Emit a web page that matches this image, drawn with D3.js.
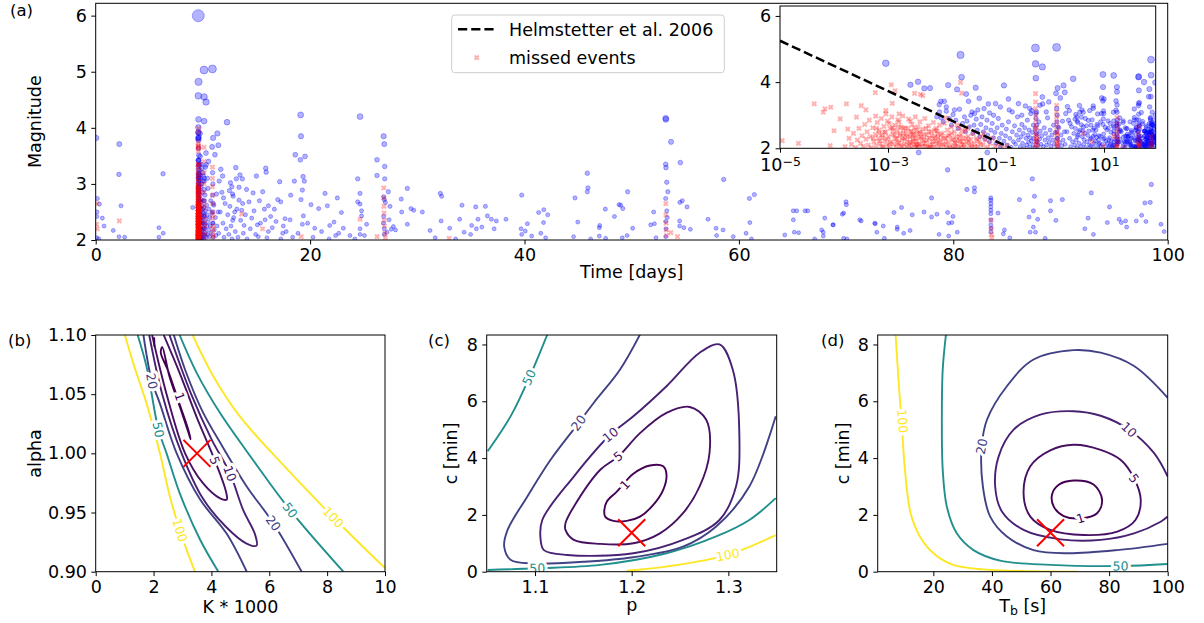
<!DOCTYPE html>
<html>
<head>
<meta charset="utf-8">
<script src="https://cdn.jsdelivr.net/npm/d3@7/dist/d3.min.js"></script>
<style>
  body { margin: 0; background: #fff; }
  svg text { font-family: "DejaVu Sans", sans-serif; }
</style>
</head>
<body>
<svg id="chart" width="1204" height="623"></svg>
<script>
/**
 * DATA
 * */
// panel (a): catalogue, times in days
const mainshockTime = 9.57;
const mainshockMag = 6.0;

// events before the mainshock: [time, magnitude]
const backgroundEvents = [
  [0.05, 3.82], [0.15, 2.74], [0.35, 2.64], [0.12, 2.5], [0.62, 2.39], [0.1, 2.42], [0.78, 2.25],
  [0.1, 2.04], [0.3, 2.02], [2.2, 3.71], [2.17, 3.17], [2.36, 2.61], [1.64, 2.17], [2.17, 2.06],
  [2.7, 2.05], [6.28, 3.18], [5.9, 2.22], [6.3, 2.12], [5.9, 2.05], [9.05, 2.58]
];
const backgroundMissed = [[0.1, 2.65], [0.15, 2.2], [2.2, 2.34], [0.08, 2.28]];

// aftershocks: [days after mainshock, magnitude]
const aftershocks = [
  [9.1e-4, 4.57], [0.022, 4.82], [0.023, 4.15], [0.537, 5.03], [1.32, 5.05], [0.54, 4.55],
  [0.72, 4.46], [0.545, 4.12], [2.68, 4.1], [2.6e-3, 3.92], [3.6e-3, 4.01], [4.7e-3, 3.81],
  [6.0e-3, 3.82], [0.013, 3.91], [0.019, 3.78], [0.028, 3.64], [0.042, 3.83], [0.049, 3.51],
  [0.031, 3.42], [0.072, 3.34], [0.098, 3.35], [0.14, 3.9], [0.17, 3.49], [0.175, 3.16],
  [0.076, 3.07], [0.0095, 3.42], [0.011, 3.42], [0.0089, 3.32], [0.012, 3.12], [0.017, 3.16],
  [0.0096, 2.92], [0.036, 3.1], [0.046, 3.16], [0.04, 3.05], [0.35, 3.28], [0.46, 3.14],
  [0.72, 3.55], [0.73, 3.34], [1.29, 3.66], [1.38, 3.82], [1.78, 3.9], [1.55, 3.52],
  [2.1, 3.26], [3.5, 3.29], [1.87, 3.69],
  [8.0e-3, 2.95], [9.0e-3, 3.1], [0.0105, 2.8], [0.012, 3.25], [0.0135, 2.9], [0.015, 2.7],
  [0.016, 3.02], [0.018, 2.85], [0.02, 2.6], [0.021, 3.18], [0.024, 2.75], [0.026, 2.95],
  [0.027, 2.5], [0.029, 2.82], [0.032, 2.65], [0.034, 3.0], [0.037, 2.45], [0.039, 2.7],
  [0.043, 2.88], [0.045, 2.55], [0.05, 2.35], [0.052, 2.72], [0.055, 2.95], [0.058, 2.5],
  [0.062, 2.28], [0.065, 2.62], [0.068, 2.85], [0.07, 2.4], [0.075, 2.2], [0.08, 2.55],
  [0.085, 2.75], [0.09, 2.32], [0.095, 2.48], [0.1, 2.15], [0.105, 2.62], [0.11, 2.9],
  [0.115, 2.3], [0.12, 2.05], [0.125, 2.45], [0.13, 2.7], [0.14, 2.22], [0.15, 2.38],
  [0.155, 2.58], [0.16, 2.1], [0.17, 2.8], [0.18, 2.3], [0.19, 2.03], [0.2, 2.5], [0.21, 2.2],
  [0.22, 2.68], [0.23, 2.12], [0.24, 2.4], [0.25, 2.95], [0.26, 2.25], [0.27, 2.55], [0.28, 2.05],
  [0.29, 2.35], [0.3, 2.72], [0.31, 2.15], [0.32, 2.45], [0.33, 2.02], [0.34, 2.62], [0.36, 2.3],
  [0.37, 2.1], [0.38, 2.85], [0.39, 2.4], [0.4, 2.18], [0.41, 2.55], [0.42, 2.04], [0.43, 2.32],
  [0.44, 3.05], [0.45, 2.22], [0.47, 2.48], [0.48, 2.1], [0.49, 2.7], [0.5, 2.3], [0.52, 2.02],
  [0.53, 2.58], [0.56, 2.2], [0.58, 2.42], [0.6, 2.08], [0.62, 2.8], [0.64, 2.28], [0.66, 2.52],
  [0.68, 2.12], [0.7, 2.38], [0.75, 2.05], [0.78, 2.62], [0.8, 2.25], [0.83, 2.45], [0.86, 2.1],
  [0.9, 2.92], [0.93, 2.32], [0.96, 2.18], [1.0, 2.55], [1.04, 2.06], [1.08, 2.4], [1.12, 2.25],
  [1.16, 2.7], [1.2, 2.12], [1.25, 2.48], [1.35, 2.3], [1.4, 2.05], [1.45, 2.62], [1.5, 2.18],
  [1.6, 2.4], [1.65, 2.08], [1.7, 2.82], [1.75, 2.25], [1.85, 2.5], [1.9, 2.12], [1.95, 3.05],
  [0.06, 3.2], [0.09, 3.0], [0.12, 3.25], [0.2, 3.1], [0.26, 3.35], [0.3, 3.0], [0.42, 3.2],
  [0.55, 3.05], [0.65, 3.3], [0.85, 3.1], [0.95, 3.4],
  [0.55, 2.9], [0.555, 2.45], [0.56, 3.1], [0.57, 2.7], [0.58, 2.2], [1.33, 3.2], [1.34, 2.8],
  [1.35, 2.5], [1.36, 3.0], [1.38, 2.3], [1.4, 2.65],
  [2.27, 3.14], [3.89, 3.16], [4.11, 3.09], [5.42, 3.14], [6.29, 3.28], [6.33, 3.21], [7.59, 3.04],
  [9.05, 3.52], [9.55, 4.23], [9.58, 3.85], [9.96, 3.49], [9.52, 3.43], [9.77, 3.13], [9.89, 3.05],
  [8.96, 3.05], [9.71, 2.89], [9.58, 2.72], [8.62, 2.8], [11.82, 2.83], [12.97, 2.75], [10.51, 2.63],
  [11.23, 2.56], [12.04, 2.61], [13.35, 2.49], [12.66, 2.32], [12.26, 2.26], [13.53, 2.21],
  [14.15, 2.08], [12.81, 2.08], [10.86, 2.21], [9.8, 2.43], [9.71, 2.28], [8.56, 2.36], [8.09, 2.38],
  [7.69, 2.68], [7.41, 2.72], [6.54, 2.61], [6.17, 2.55], [6.01, 2.86], [5.11, 2.84], [4.73, 2.68],
  [3.8, 2.94], [3.55, 3.09], [3.13, 2.95], [3.2, 2.82], [3.0, 3.02], [3.25, 2.78], [3.8, 2.71],
  [4.14, 2.65], [4.05, 2.53], [3.39, 2.5], [3.21, 2.35], [4.27, 2.26], [4.98, 2.39], [5.51, 2.27],
  [6.23, 2.36], [6.75, 2.42], [7.25, 2.33], [7.93, 2.25], [7.87, 2.12], [6.54, 2.15], [5.6, 2.06],
  [2.05, 2.5], [2.2, 2.85], [2.3, 2.3], [2.4, 2.05], [2.5, 2.65], [2.6, 2.2], [2.75, 2.45],
  [2.85, 2.1], [2.95, 2.6], [3.05, 2.25], [3.15, 2.02], [3.3, 2.4], [3.45, 2.15], [3.6, 2.55],
  [3.7, 2.05], [3.95, 2.35], [4.2, 2.12], [4.4, 2.45], [4.55, 2.02], [4.85, 2.2], [5.2, 2.52],
  [5.35, 2.1], [5.8, 2.3], [6.4, 2.04], [6.9, 2.22], [7.1, 2.55], [7.7, 2.02], [8.2, 2.15],
  [8.8, 2.05], [9.3, 2.12], [10.2, 2.3], [10.7, 2.05], [11.5, 2.15], [12.2, 2.02], [13.1, 2.12],
  [14.6, 2.02], [2.35, 2.75], [2.9, 2.88], [4.5, 2.9], [5.7, 2.7],
  [15.09, 4.2], [17.29, 3.85], [17.35, 3.71], [16.67, 3.43], [16.67, 3.15], [17.39, 3.31],
  [17.39, 3.09], [14.87, 3.09], [15.09, 2.83], [14.87, 2.68], [15.09, 2.64], [15.23, 2.52],
  [15.23, 2.43], [15.09, 2.2], [15.09, 2.1], [15.5, 2.08], [15.7, 2.28], [17.73, 2.86],
  [17.29, 2.77], [17.35, 2.72], [17.45, 2.67], [17.88, 2.6], [17.8, 2.36], [17.29, 2.42],
  [17.26, 2.3], [17.35, 2.2], [17.35, 2.1], [17.6, 2.14], [18.0, 2.19], [18.2, 2.24], [18.4, 2.18],
  [18.93, 2.73], [19.5, 2.92], [18.97, 2.5], [19.5, 2.28], [19.84, 2.56], [20.1, 2.53], [20.9, 2.5],
  [21.62, 2.17], [22.1, 2.04], [22.58, 2.83], [22.7, 2.78], [22.65, 2.34], [23.45, 2.21],
  [24.0, 2.02], [24.38, 2.37], [24.6, 2.62], [24.8, 2.14], [25.4, 2.1], [25.5, 2.26], [25.88, 2.59],
  [25.94, 2.2], [26.09, 2.37], [26.45, 2.23], [26.78, 2.6], [26.97, 2.43], [27.34, 2.37],
  [27.6, 2.2], [27.8, 2.34], [28.7, 2.37], [30.11, 2.2], [30.17, 2.8], [30.17, 2.1], [30.5, 2.16],
  [30.7, 2.29], [31.1, 2.07], [31.75, 2.49], [31.95, 2.12], [32.23, 2.54], [32.2, 2.31],
  [32.4, 2.04], [32.6, 2.45], [35.01, 2.06], [35.14, 2.75], [35.4, 2.32], [36.29, 3.19],
  [36.35, 2.93], [36.29, 2.86], [36.6, 2.02], [37.41, 2.22], [37.45, 2.26], [37.41, 2.07],
  [37.97, 2.55], [38.0, 2.03], [38.82, 2.42], [39.25, 2.63],
  [43.6, 4.17], [43.62, 4.15], [44.1, 3.75], [43.6, 3.35], [43.63, 3.29], [44.97, 3.38],
  [43.7, 3.03], [43.8, 2.86], [43.6, 2.74], [43.7, 2.52], [43.75, 2.4], [43.6, 2.33], [43.62, 2.2],
  [43.6, 2.06], [44.93, 2.67], [45.15, 2.7], [45.59, 2.59], [44.9, 2.34], [44.9, 2.25], [45.3, 2.22],
  [49.01, 3.08], [47.55, 2.37], [48.3, 2.21], [48.95, 2.18], [48.35, 2.08], [49.9, 2.06],
  [51.41, 2.74], [51.87, 2.81], [51.45, 2.31], [51.1, 2.12], [51.6, 2.02], [40.05, 2.86],
  [39.4, 2.62], [39.6, 2.56], [40.52, 2.21], [42.48, 2.5], [42.2, 2.27], [42.55, 2.29], [42.7, 2.04],
  [39.55, 2.04], [40.0, 2.08], [45.9, 2.19], [54.71, 2.09], [55.6, 2.14], [55.51, 2.36],
  [55.82, 2.52], [56.85, 2.52], [56.0, 2.13], [58.3, 2.14], [58.3, 2.07], [58.44, 2.39],
  [59.23, 2.27], [60.08, 2.46], [60.42, 2.68], [60.45, 2.63], [61.84, 2.34], [63.15, 2.29],
  [63.3, 2.14], [63.9, 2.25], [64.0, 2.03], [65.2, 2.19], [60.5, 2.02], [57.5, 2.02],
  [55.5, 2.52], [56.6, 2.52], [58.15, 2.18], [59.2, 2.27], [60.2, 2.48], [61.7, 2.36], [63.1, 2.3],
  [60.2, 2.03],
  [67.2, 3.56], [69.9, 3.25], [73.6, 3.56], [77.8, 3.09], [71.7, 2.9], [72.4, 2.93], [72.4, 2.86],
  [68.4, 2.75], [73.93, 2.75], [73.93, 2.71], [73.94, 2.65], [73.93, 2.59], [73.94, 2.53],
  [73.93, 2.47], [73.94, 2.36], [73.93, 2.27], [73.95, 2.21], [73.93, 2.14],
  [64.9, 2.49], [65.6, 2.58], [66.6, 2.45], [67.7, 2.5], [68.4, 2.41], [68.9, 2.46], [69.9, 2.49],
  [70.4, 2.42], [70.0, 2.3], [70.3, 2.31], [70.8, 2.14], [69.1, 2.1], [70.0, 2.07], [65.8, 2.12],
  [66.4, 2.17], [65.2, 2.23], [76.6, 2.72], [78.0, 2.78], [79.5, 2.7], [80.6, 2.72], [83.3, 2.84],
  [85.0, 2.59], [88.9, 2.99], [88.8, 2.67], [88.3, 2.66], [88.0, 2.44], [88.4, 2.33], [89.8, 2.28],
  [90.1, 2.15], [77.9, 2.52], [77.5, 2.41], [78.3, 2.37], [77.9, 2.23], [77.6, 2.14], [78.1, 2.14],
  [79.5, 2.52], [80.0, 2.35], [83.0, 2.39], [82.7, 2.2], [83.5, 2.1], [84.8, 2.31], [85.9, 2.37],
  [86.1, 2.31], [86.5, 2.34], [86.6, 2.23], [87.5, 2.34], [74.6, 2.48], [75.2, 2.18], [75.1, 2.11],
  [75.7, 2.04], [79.0, 2.03],
  [55, 4.0], [69, 3.79], [74.5, 4.21], [74, 4.68], [89, 3.99]
];

// aftershocks missed by the catalogue: [days after mainshock, magnitude]
const aftershocksMissed = [
  [1.1e-5, 2.23], [2.2e-5, 2.15], [4.3e-5, 3.34], [6.3e-5, 3.09], [6.8e-5, 3.19], [8.5e-5, 2.08],
  [8.7e-5, 3.24], [1.0e-4, 2.53], [1.3e-4, 2.89], [1.7e-4, 3.34], [1.8e-4, 2.58], [2.6e-4, 2.94],
  [3.2e-4, 3.29], [3.9e-4, 3.16], [5.8e-4, 3.68], [5.9e-4, 2.97], [9.1e-4, 3.14], [9.1e-4, 3.04],
  [1.15e-3, 3.92], [1.2e-3, 3.36], [1.35e-3, 3.74], [1.6e-3, 3.04], [3.1e-3, 3.66], [4.4e-3, 3.59],
  [4.0e-3, 3.63], [0.022, 3.99], [0.023, 3.67],
  [1.6e-4, 2.05], [1.9e-4, 2.3], [2.1e-4, 2.12], [2.3e-4, 2.45], [2.5e-4, 2.02], [2.7e-4, 2.25],
  [2.9e-4, 2.6], [3.1e-4, 2.15], [3.3e-4, 2.38], [3.5e-4, 2.05], [3.7e-4, 2.72], [3.9e-4, 2.28],
  [4.1e-4, 2.5], [4.3e-4, 2.1], [4.5e-4, 2.85], [4.7e-4, 2.35], [4.9e-4, 2.02], [5.2e-4, 2.62],
  [5.5e-4, 2.2], [5.8e-4, 2.42],
  [6.0e-4, 2.08], [6.3e-4, 2.78], [6.6e-4, 2.3], [6.9e-4, 2.55], [7.2e-4, 2.14], [7.5e-4, 2.9],
  [7.8e-4, 2.4], [8.1e-4, 2.03], [8.4e-4, 2.66], [8.7e-4, 2.22], [9.0e-4, 2.48], [9.4e-4, 2.1],
  [9.8e-4, 2.82], [1.02e-3, 2.35], [1.06e-3, 2.05], [1.1e-3, 2.6], [1.14e-3, 2.2], [1.18e-3, 2.95],
  [1.22e-3, 2.42], [1.27e-3, 2.12], [1.32e-3, 2.7], [1.37e-3, 2.28], [1.42e-3, 2.04], [1.47e-3, 2.52],
  [1.52e-3, 2.86], [1.58e-3, 2.18], [1.64e-3, 2.38], [1.7e-3, 2.08], [1.76e-3, 2.64], [1.82e-3, 2.25],
  [1.88e-3, 2.98], [1.95e-3, 2.45], [2.0e-3, 2.12], [1.25e-3, 2.55], [8.0e-4, 2.32], [1.5e-3, 2.15],
  [1.05e-3, 2.75], [6.8e-4, 2.45], [1.9e-3, 2.32], [1.6e-3, 2.8],
  [2.1e-3, 2.6], [2.2e-3, 2.05], [2.3e-3, 2.35], [2.4e-3, 2.88], [2.5e-3, 2.18], [2.6e-3, 2.5],
  [2.7e-3, 2.02], [2.8e-3, 2.72], [2.9e-3, 2.28], [3.0e-3, 2.42], [3.1e-3, 2.1], [3.2e-3, 2.95],
  [3.3e-3, 2.55], [3.4e-3, 2.22], [3.5e-3, 2.04], [3.6e-3, 2.65], [3.7e-3, 2.32], [3.8e-3, 2.12],
  [3.9e-3, 2.8], [4.0e-3, 2.45], [4.2e-3, 2.06], [4.4e-3, 2.58], [4.6e-3, 2.25], [4.8e-3, 2.9],
  [5.0e-3, 2.15], [5.2e-3, 2.4], [5.4e-3, 2.03], [5.6e-3, 2.68], [5.8e-3, 2.3], [6.0e-3, 2.1],
  [6.3e-3, 2.5], [6.6e-3, 2.2], [6.9e-3, 2.78], [7.2e-3, 2.02], [7.5e-3, 2.36], [7.8e-3, 2.6],
  [8.1e-3, 2.14], [8.4e-3, 2.44], [8.7e-3, 2.05], [9.0e-3, 2.7], [9.4e-3, 2.26], [9.8e-3, 2.1],
  [2.6e-3, 2.82], [3.3e-3, 2.12], [4.1e-3, 2.35], [5.1e-3, 2.6], [6.2e-3, 2.04], [7.0e-3, 2.3],
  [8.0e-3, 2.52], [2.9e-3, 2.2],
  [0.0102, 2.45], [0.0106, 2.12], [0.011, 2.75], [0.0115, 2.3], [0.012, 2.03], [0.0125, 2.55],
  [0.013, 2.2], [0.0136, 2.4], [0.0142, 2.08], [0.0148, 2.65], [0.0155, 2.25], [0.0162, 2.02],
  [0.017, 2.5], [0.0178, 2.15], [0.0186, 2.35], [0.0195, 2.06], [0.0205, 2.6], [0.0215, 2.22],
  [0.0225, 2.42], [0.0235, 2.1], [0.0245, 2.3], [0.026, 2.04], [0.0275, 2.52], [0.029, 2.18],
  [0.0305, 2.36], [0.032, 2.08], [0.034, 2.26], [0.036, 2.02], [0.038, 2.44], [0.04, 2.14],
  [0.043, 2.3], [0.046, 2.05], [0.049, 2.2], [0.014, 2.85], [0.019, 2.7], [0.024, 2.55],
  [0.0115, 2.92], [0.03, 2.6], [0.017, 2.18], [0.022, 2.02],
  [5.3e-4, 2.3], [6.1e-4, 2.6], [7.0e-4, 2.22], [7.7e-4, 2.05], [8.6e-4, 2.5], [9.6e-4, 2.28],
  [1.08e-3, 2.15], [1.2e-3, 2.62], [1.33e-3, 2.4], [1.45e-3, 2.3], [1.56e-3, 2.65], [1.68e-3, 2.45],
  [1.8e-3, 2.05], [1.92e-3, 2.6], [2.05e-3, 2.3], [2.15e-3, 2.45], [2.25e-3, 2.2], [2.35e-3, 2.6],
  [2.45e-3, 2.08], [2.55e-3, 2.35], [2.65e-3, 2.15], [2.75e-3, 2.5], [2.85e-3, 2.4], [3.05e-3, 2.62],
  [3.15e-3, 2.3], [3.35e-3, 2.05], [3.45e-3, 2.44], [3.65e-3, 2.12], [3.85e-3, 2.5], [4.3e-3, 2.28],
  [4.5e-3, 2.14], [4.7e-3, 2.42], [4.9e-3, 2.05], [5.3e-3, 2.25], [5.7e-3, 2.5], [5.9e-3, 2.02],
  [6.4e-3, 2.38], [6.8e-3, 2.12], [7.3e-3, 2.55], [7.7e-3, 2.22], [8.3e-3, 2.32], [8.9e-3, 2.18],
  [9.6e-3, 2.4], [0.0108, 2.3], [0.0118, 2.14], [0.0128, 2.36], [0.0138, 2.02], [0.015, 2.45],
  [0.016, 2.3], [0.0175, 2.05], [0.019, 2.24], [0.021, 2.35], [0.023, 2.2], [0.025, 2.12],
  [0.028, 2.3], [0.031, 2.22], [0.035, 2.12], [0.041, 2.04], [0.045, 2.25], [0.052, 2.12],
  [0.053, 2.35], [0.058, 2.1], [0.064, 2.25], [0.07, 2.03], [0.078, 2.15], [0.086, 2.3],
  [0.095, 2.06], [0.11, 2.12], [0.13, 2.02], [0.16, 2.08], [0.06, 2.45],
  [0.538, 3.65], [0.539, 3.4], [0.54, 3.2], [0.541, 3.0], [0.542, 2.85], [0.543, 2.7],
  [0.545, 2.55], [0.547, 2.42], [0.55, 2.3], [0.552, 2.2], [0.555, 2.1], [0.558, 2.02],
  [0.56, 2.62], [0.565, 2.35], [0.57, 2.12], [0.58, 2.25],
  [1.321, 3.3], [1.322, 3.1], [1.323, 2.95], [1.325, 2.8], [1.327, 2.65], [1.33, 2.5],
  [1.333, 2.38], [1.336, 2.25], [1.34, 2.15], [1.345, 2.05], [1.35, 2.45], [1.36, 2.2], [1.37, 2.08],
  [17.3, 2.93], [17.31, 2.75], [17.32, 2.6], [17.33, 2.48], [17.35, 2.35], [17.37, 2.25],
  [17.4, 2.12], [17.45, 2.04], [43.61, 2.65], [43.62, 2.45], [43.64, 2.3], [43.66, 2.18],
  [43.68, 2.08], [44.08, 2.13], [44.7, 2.06], [73.95, 2.35], [73.97, 2.2], [74.0, 2.1],
  [74.02, 2.04], [15.09, 2.37], [16.68, 2.06], [23.4, 2.03], [4.05, 2.46], [6.0, 2.2], [9.6, 2.06]
];

// Helmstetter et al. (2006) completeness line, end points [days, magnitude]
const helmstetterLine = [[1e-5, 5.25], [0.19, 2.0]];

// panels (b)-(d): misfit contours, [level, points, closed]
const contoursB = [
  [100, [[1.01, 1.1], [1.3, 1.076], [1.76, 1.042], [2.22, 1.0], [2.57, 0.963], [2.91, 0.935], [3.15, 0.918], [3.43, 0.9]], false],
  [100, [[3.35, 1.1], [4.07, 1.065], [4.99, 1.031], [6.49, 0.99], [8.21, 0.946], [10.0, 0.903]], false],
  [50, [[1.45, 1.1], [1.76, 1.073], [2.17, 1.02], [2.45, 1.0], [2.91, 0.966], [3.61, 0.927], [4.24, 0.9]], false],
  [50, [[2.9, 1.1], [3.49, 1.068], [4.3, 1.034], [5.45, 0.994], [6.72, 0.952], [8.56, 0.9]], false],
  [20, [[1.65, 1.1], [1.94, 1.061], [2.22, 1.042], [2.8, 1.0], [3.61, 0.961], [4.53, 0.932], [5.22, 0.9]], false],
  [20, [[2.7, 1.1], [3.1, 1.07], [3.7, 1.035], [4.4, 1.005], [5.22, 0.972], [6.14, 0.941], [7.12, 0.9]], false],
  [10, [[1.85, 1.1], [2.3, 1.05], [2.97, 1.0], [3.7, 0.962], [4.5, 0.938], [5.2, 0.924], [5.56, 0.922], [5.5, 0.932], [5.1, 0.952], [4.64, 0.983], [4.0, 1.012], [3.3, 1.05], [2.55, 1.1]], false],
  [5, [[1.95, 1.1], [2.45, 1.05], [3.09, 1.0], [3.7, 0.975], [4.3, 0.962], [4.53, 0.961], [4.5, 0.968], [4.12, 0.994], [3.5, 1.03], [2.9, 1.068], [2.35, 1.1]], false],
  [1, [[2.25, 1.085], [2.5, 1.07], [2.85, 1.045], [3.2, 1.02], [3.28, 1.012], [3.2, 1.018], [2.9, 1.04], [2.55, 1.065], [2.3, 1.09]], true],
  [1, [[2.02, 1.098], [2.03, 1.09]], false]
];
const labelsB = [["1", 2.91, 1.048], ["5", 4.12, 0.994], ["10", 4.64, 0.983], ["20", 1.94, 1.061],
  ["20", 6.14, 0.941], ["50", 2.17, 1.02], ["50", 6.72, 0.952], ["100", 2.91, 0.935], ["100", 8.21, 0.946]];
const bestB = [3.5, 1.0];

const contoursC = [
  [100, [[1.1949, 0.035], [1.236, 0.18], [1.2994, 0.59], [1.349, 1.29]], false],
  [50, [[1.1127, 8.35], [1.0962, 7.0], [1.0757, 5.53], [1.051, 4.24]], false],
  [50, [[1.051, 0.06], [1.1024, 0.12], [1.1675, 0.24], [1.236, 0.65], [1.2874, 1.24], [1.3217, 1.82], [1.349, 2.59]], false],
  [20, [[1.2086, 8.35], [1.188, 7.12], [1.1606, 5.94], [1.1452, 5.24], [1.1161, 3.94], [1.0921, 2.65], [1.0716, 1.47], [1.0681, 0.88], [1.075, 0.41], [1.099, 0.29], [1.1504, 0.35], [1.2017, 0.51], [1.2531, 0.88], [1.2874, 1.59], [1.3217, 3.0], [1.349, 5.47]], false],
  [10, [[1.1058, 1.12], [1.1075, 1.82], [1.1401, 3.35], [1.1778, 4.82], [1.2017, 5.47], [1.236, 6.53], [1.2703, 7.71], [1.2908, 8.0], [1.3045, 7.12], [1.3114, 4.76], [1.3079, 3.0], [1.2908, 1.82], [1.2531, 1.12], [1.2017, 0.65], [1.1332, 0.59], [1.1092, 0.76]], true],
  [5, [[1.1315, 1.71], [1.1401, 2.29], [1.1675, 3.59], [1.1863, 4.06], [1.2086, 4.88], [1.236, 5.59], [1.26, 5.8], [1.2771, 5.35], [1.2805, 4.18], [1.2703, 3.0], [1.2531, 2.06], [1.2292, 1.35], [1.2017, 1.0], [1.1675, 0.98], [1.1401, 1.12], [1.1315, 1.47]], true],
  [1, [[1.1716, 2.12], [1.1743, 2.47], [1.1846, 2.82], [1.2017, 3.45], [1.2189, 3.74], [1.2326, 3.71], [1.236, 3.41], [1.2326, 2.88], [1.2223, 2.35], [1.2086, 1.94], [1.1949, 1.79], [1.1812, 1.79], [1.1726, 1.94]], true]
];
const labelsC = [["1", 1.193, 3.06], ["5", 1.186, 4.06], ["10", 1.178, 4.82], ["20", 1.145, 5.24],
  ["50", 1.0938, 6.84], ["50", 1.1024, 0.12], ["100", 1.2994, 0.59]];
const bestC = [1.2, 1.37];

const contoursD = [
  [100, [[7.1, 8.35], [8.25, 6.53], [9.27, 5.12], [10.3, 3.59], [12.24, 2.06], [15.4, 1.24], [20, 0.65], [26.8, 0.24], [37.1, 0.08], [54.2, 0.02], [69.1, 0.0]], false],
  [50, [[24.3, 8.35], [23.2, 7.12], [22.9, 5.35], [23.2, 3.59], [24.6, 2.29], [28.0, 1.35], [33.7, 0.76], [42.8, 0.39], [59.9, 0.24], [83.9, 0.2], [100, 0.27]], false],
  [20, [[100, 6.12], [88.5, 7.24], [77.1, 7.71], [67.9, 7.8], [54.2, 7.47], [45.1, 6.53], [38.3, 5.35], [36.5, 4.41], [36.9, 3.0], [39.4, 1.94], [45.1, 1.24], [54.2, 0.76], [65.6, 0.65], [82.8, 0.76], [100, 0.98]], false],
  [10, [[100, 3.35], [95.3, 4.18], [86.8, 5.0], [77.1, 5.49], [67.9, 5.65], [56.5, 5.53], [47.4, 5.0], [42.3, 4.06], [41.1, 3.0], [43.4, 2.12], [50.8, 1.47], [63.4, 1.14], [77.1, 1.12], [88.5, 1.35], [97.6, 1.76], [100, 1.94]], false],
  [5, [[67.9, 4.47], [77.1, 4.29], [83.9, 3.94], [88.5, 3.29], [90.8, 2.53], [89.0, 1.82], [82.8, 1.41], [71.4, 1.29], [59.9, 1.47], [53.1, 1.94], [50.8, 2.76], [53.1, 3.71], [59.9, 4.27]], true],
  [1, [[67.9, 3.21], [74.8, 3.06], [77.6, 2.53], [75.9, 2.06], [70.2, 1.88], [64.5, 1.96], [61.1, 2.29], [60.5, 2.71], [62.8, 3.06]], true]
];
const labelsD = [["100", 9.5, 5.3], ["50", 83.9, 0.2], ["20", 36.5, 4.41], ["10", 86.8, 5.0],
  ["5", 88.5, 3.29], ["1", 70.2, 1.88]];
const bestD = [60, 1.37];

/**
 * CONSTANTS
 * */
const FONT = 17.5;
const svg = d3.select("#chart");
const blueFill = "rgba(0,0,255,0.3)";
const redMark = "rgba(255,0,0,0.3)";
const markerRadius = m => Math.sqrt((10 + 0.256 * Math.exp(m)) / Math.PI);
const levelColor = lv => d3.interpolateViridis((lv - 1) / 99);
const CROSS = "M-2.1,-2.1L2.1,2.1M-2.1,2.1L2.1,-2.1";

/**
 * SCALES
 * */
const xTime = d3.scaleLinear().domain([0, 100]).range([95.7, 1167.7]);
const yMag = d3.scaleLinear().domain([2, 6.22]).range([240, 3.3]);
const xLag = d3.scaleLog().domain([1e-5, 90.4]).range([780, 1155.7]);
const yMagIn = d3.scaleLinear().domain([2, 6.3]).range([148.3, 6]);
const xK = d3.scaleLinear().domain([0, 10]).range([95.7, 385]);
const yAlpha = d3.scaleLinear().domain([0.9, 1.1]).range([571.7, 335]);
const xP = d3.scaleLinear().domain([1.05, 1.35]).range([486.7, 776.7]);
const yCc = d3.scaleLinear().domain([0, 8.333]).range([571.7, 335]);
const xTb = d3.scaleLinear().domain([1, 100]).range([877.7, 1167.7]);
const yCd = d3.scaleLinear().domain([0, 8.333]).range([571.7, 335]);

/**
 * HELPERS
 * */
let clipCount = 0;
function clipped(x, y) {
  const id = "clip" + (clipCount++);
  const [x0, x1] = x.range(), [y0, y1] = y.range();
  svg.append("clipPath").attr("id", id).append("rect")
    .attr("x", x0).attr("y", y1).attr("width", x1 - x0).attr("height", y0 - y1);
  return svg.append("g").attr("clip-path", `url(#${id})`);
}

function styleAxis(g) {
  g.select(".domain").remove();
  g.attr("font-size", FONT).attr("font-family", "DejaVu Sans, sans-serif");
  g.selectAll("line").attr("stroke", "#000").attr("stroke-width", 1);
  g.selectAll("text").attr("fill", "#000");
}

function axesBox(x, y, xTicks, yTicks, xFmt, yFmt, xPad) {
  const [x0, x1] = x.range(), [y0, y1] = y.range();
  const gx = svg.append("g").attr("transform", `translate(0,${y0})`)
    .call(d3.axisBottom(x).tickValues(xTicks).tickFormat(xFmt).tickSize(4.4).tickPadding(xPad || 4.4));
  const gy = svg.append("g").attr("transform", `translate(${x0},0)`)
    .call(d3.axisLeft(y).tickValues(yTicks).tickFormat(yFmt).tickSize(4.4).tickPadding(4.4));
  styleAxis(gx);
  styleAxis(gy);
  svg.append("rect").attr("x", x0).attr("y", y1).attr("width", x1 - x0).attr("height", y0 - y1)
    .attr("fill", "none").attr("stroke", "#000").attr("stroke-width", 1);
  return gx;
}

function dots(g, data, x, y) {
  g.selectAll(null).data(data).join("circle")
    .attr("cx", d => x(d[0])).attr("cy", d => y(d[1])).attr("r", d => markerRadius(d[1]))
    .attr("fill", blueFill).attr("stroke", blueFill).attr("stroke-width", 1);
}

function crosses(g, data, x, y) {
  g.selectAll(null).data(data).join("path")
    .attr("transform", d => `translate(${x(d[0])},${y(d[1])})`)
    .attr("d", CROSS)
    .attr("fill", "none").attr("stroke", redMark).attr("stroke-width", 2.1);
}

function text(x, y, str, size, anchor, rotate) {
  const t = svg.append("text").attr("x", x).attr("y", y).attr("font-size", size || FONT)
    .attr("text-anchor", anchor || "start").attr("fill", "#000").text(str);
  if (rotate) t.attr("transform", `rotate(${rotate},${x},${y})`);
  return t;
}

function labelAngle(contours, level, px, py, x, y) {
  let best = 0, bestD = Infinity;
  contours.filter(c => c[0] === level).forEach(([, pts, closed]) => {
    const seq = closed ? pts.concat([pts[0]]) : pts;
    for (let i = 0; i < seq.length - 1; i++) {
      const ax = x(seq[i][0]), ay = y(seq[i][1]), bx = x(seq[i + 1][0]), by = y(seq[i + 1][1]);
      const dx = bx - ax, dy = by - ay, L = dx * dx + dy * dy;
      let t = L ? ((px - ax) * dx + (py - ay) * dy) / L : 0;
      t = Math.max(0, Math.min(1, t));
      const d = Math.hypot(ax + t * dx - px, ay + t * dy - py);
      if (d < bestD) { bestD = d; best = Math.atan2(dy, dx) * 180 / Math.PI; }
    }
  });
  if (best > 90) best -= 180;
  if (best < -90) best += 180;
  return best;
}

function contourPanel(x, y, contours, labels, bestFit) {
  const g = clipped(x, y);
  contours.forEach(([level, pts, closed]) => {
    const line = d3.line().x(d => x(d[0])).y(d => y(d[1]))
      .curve(closed ? d3.curveCatmullRomClosed : d3.curveCatmullRom);
    g.append("path").attr("d", line(pts)).attr("fill", "none")
      .attr("stroke", levelColor(level)).attr("stroke-width", 1.9);
  });
  labels.forEach(([str, lx, ly]) => {
    const px = x(lx), py = y(ly);
    const ang = labelAngle(contours, +str, px, py, x, y);
    g.append("text").attr("x", px).attr("y", py).attr("font-size", 12.5)
      .attr("text-anchor", "middle").attr("dominant-baseline", "central")
      .attr("transform", `rotate(${ang},${px},${py})`)
      .style("fill", levelColor(+str)).style("stroke", "#fff").style("stroke-width", 6)
      .style("paint-order", "stroke").style("stroke-linejoin", "round")
      .text(str);
  });
  const cx = x(bestFit[0]), cy = y(bestFit[1]);
  g.append("path").attr("d", `M${cx - 13.5},${cy - 13.5}L${cx + 13.5},${cy + 13.5}M${cx - 13.5},${cy + 13.5}L${cx + 13.5},${cy - 13.5}`)
    .attr("stroke", "#ff0000").attr("stroke-width", 2).attr("fill", "none");
}

/**
 * PANEL (a)
 * */
const mainBlue = backgroundEvents
  .concat([[mainshockTime, mainshockMag]])
  .concat(aftershocks.map(d => [mainshockTime + d[0], d[1]]));
const mainRed = backgroundMissed.concat(aftershocksMissed.map(d => [mainshockTime + d[0], d[1]]));

const gA = clipped(xTime, yMag);
dots(gA, mainBlue, xTime, yMag);
crosses(gA, mainRed, xTime, yMag);
axesBox(xTime, yMag, [0, 20, 40, 60, 80, 100], [2, 3, 4, 5, 6], d3.format("d"), d3.format("d"));
text(631.7, 278, "Time [days]", FONT, "middle");
text(41, 121.7, "Magnitude", FONT, "middle", -90);
text(10, 16, "(a)", 16.5);

// legend
svg.append("rect").attr("x", 451.7).attr("y", 15).attr("width", 272.6).attr("height", 57.7)
  .attr("rx", 3).attr("fill", "#fff").attr("fill-opacity", 0.8).attr("stroke", "#cccccc");
svg.append("line").attr("x1", 458).attr("x2", 495).attr("y1", 29.3).attr("y2", 29.3)
  .attr("stroke", "#000").attr("stroke-width", 2.5).attr("stroke-dasharray", "9.2,4");
text(509, 35.5, "Helmstetter et al. 2006");
svg.append("path").attr("transform", "translate(476.7,57.7)").attr("d", CROSS)
  .attr("fill", "none").attr("stroke", redMark).attr("stroke-width", 2.1);
text(509, 63.8, "missed events");

// inset: magnitude against time since mainshock
svg.append("rect").attr("x", 780).attr("y", 6).attr("width", 375.7).attr("height", 142.3).attr("fill", "#fff");
const gIn = clipped(xLag, yMagIn);
dots(gIn, aftershocks, xLag, yMagIn);
crosses(gIn, aftershocksMissed, xLag, yMagIn);
gIn.append("path").datum(helmstetterLine)
  .attr("d", d3.line().x(d => xLag(d[0])).y(d => yMagIn(d[1])))
  .attr("fill", "none").attr("stroke", "#000").attr("stroke-width", 2.5).attr("stroke-dasharray", "9.2,4");
const gxIn = axesBox(xLag, yMagIn, [1e-5, 1e-3, 1e-1, 1e1], [2, 4, 6], () => "", d3.format("d"), 6.2);
gxIn.selectAll(".tick text").each(function (d) {
  const e = Math.round(Math.log10(d));
  const t = d3.select(this);
  t.append("tspan").text("10");
  t.append("tspan").attr("dy", "-0.45em").attr("font-size", 12.5).text(e < 0 ? "\u2212" + (-e) : String(e));
});

/**
 * PANEL (b)
 * */
contourPanel(xK, yAlpha, contoursB, labelsB, bestB);
axesBox(xK, yAlpha, [0, 2, 4, 6, 8, 10], [0.9, 0.95, 1.0, 1.05, 1.1], d3.format("d"), d3.format(".2f"));
text(240.4, 613, "K * 1000", FONT, "middle");
text(41, 453.4, "alpha", FONT, "middle", -90);
text(8, 346, "(b)", 16.5);

/**
 * PANEL (c)
 * */
contourPanel(xP, yCc, contoursC, labelsC, bestC);
axesBox(xP, yCc, [1.1, 1.2, 1.3], [0, 2, 4, 6, 8], d3.format(".1f"), d3.format("d"));
text(631.7, 611, "p", FONT, "middle");
text(457, 453.4, "c [min]", FONT, "middle", -90);
text(428, 346, "(c)", 16.5);

/**
 * PANEL (d)
 * */
contourPanel(xTb, yCd, contoursD, labelsD, bestD);
axesBox(xTb, yCd, [20, 40, 60, 80, 100], [0, 2, 4, 6, 8], d3.format("d"), d3.format("d"));
const tb = text(1022.7, 612, "", FONT, "middle");
tb.append("tspan").text("T");
tb.append("tspan").attr("font-size", 12.5).attr("dy", "0.25em").text("b");
tb.append("tspan").attr("dy", "-0.18em").text(" [s]");
text(849, 453.4, "c [min]", FONT, "middle", -90);
text(821, 346, "(d)", 16.5);
</script>
</body>
</html>
